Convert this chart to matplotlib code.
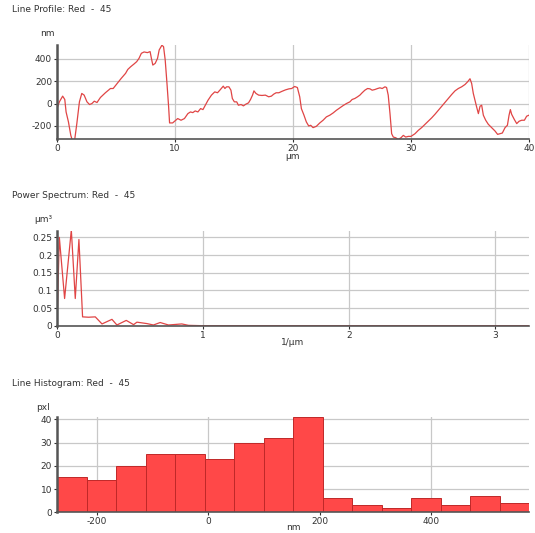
import matplotlib
matplotlib.use("Agg")
import matplotlib.pyplot as plt
import numpy as np

plt.rcParams["axes.unicode_minus"] = False

# Line profile (um, nm)
profile_x = [0, 0.2, 0.48, 0.66, 0.77, 0.97, 1.17, 1.28, 1.5, 1.68, 1.9, 2.1, 2.3, 2.54, 2.76, 2.96,
             3.16, 3.39, 3.68, 4.1, 4.53, 4.76, 5.1, 5.44, 5.81, 6.0, 6.24, 6.52, 6.75, 6.95, 7.15,
             7.38, 7.66, 7.89, 8.0, 8.12, 8.32, 8.52, 8.66, 8.89, 9.03, 9.17, 9.32, 9.46, 9.54, 9.8,
             10.0, 10.23, 10.51, 10.8, 11.09, 11.31, 11.51, 11.71, 11.94, 12.17, 12.37, 12.57, 12.8,
             13.09, 13.37, 13.6, 13.8, 14.09, 14.23, 14.37, 14.57, 14.74, 14.86, 15.03, 15.23, 15.37,
             15.6, 15.8, 16.0, 16.23, 16.4, 16.57, 16.69, 16.86, 17.09, 17.37, 17.66, 17.94, 18.17,
             18.37, 18.57, 18.8, 19.09, 19.37, 19.66, 19.89, 20.14, 20.37, 20.57, 20.71, 20.93, 21.13,
             21.33, 21.5, 21.7, 21.98, 22.27, 22.55, 22.83, 23.12, 23.4, 23.68, 23.97, 24.25, 24.53,
             24.82, 25.01, 25.24, 25.47, 25.67, 25.86, 26.09, 26.32, 26.52, 26.71, 26.94, 27.17,
             27.37, 27.56, 27.79, 27.93, 28.07, 28.22, 28.36, 28.5, 28.7, 28.92, 29.15, 29.35, 29.55,
             29.77, 30.0, 30.34, 30.62, 30.9, 31.19, 31.47, 31.75, 32.03, 32.32, 32.6, 32.88, 33.16,
             33.45, 33.73, 34.01, 34.29, 34.58, 34.8, 35.0, 35.14, 35.28, 35.42, 35.56, 35.71, 35.85,
             35.99, 36.13, 36.33, 36.55, 36.84, 37.12, 37.34, 37.54, 37.74, 37.97, 38.17, 38.31,
             38.42, 38.53, 38.76, 38.96, 39.16, 39.38, 39.61, 39.8, 40.0]
profile_y = [-45, 15, 66, 36, -75, -164, -284, -322, -322, -179, 15, 90, 75, 15, -9, 0,
             21, 9, 54, 96, 134, 134, 179, 224, 269, 304, 328, 352, 373, 403, 448,
             460, 454, 463, 403, 343, 358, 403, 478, 520, 507, 388, 179, -30, -173, -173,
             -155, -134, -149, -134, -90, -75, -81, -66, -75, -45, -54, -15, 30,
             75, 104, 96, 119, 155, 134, 149, 149, 119, 45, 15, 15, -15,
             -9, -21, -6, 6, 36, 75, 113, 90, 75, 72, 75, 60, 66,
             84, 96, 96, 110, 122, 131, 134, 152, 143, 60, -45, -104, -164,
             -200, -194, -215, -203, -173, -149, -119, -104, -84, -60, -39, -18, 0,
             15, 36, 45, 60, 75, 96, 119, 134, 131, 119, 125, 134,
             140, 134, 149, 143, 75, -90, -269, -299, -305, -320, -305, -284, -299,
             -293, -293, -269, -239, -215, -185, -155, -128, -96, -60, -24, 9, 45,
             81, 113, 134, 149, 170, 194, 221, 179, 90, 30, -30, -90, -24,
             -15, -104, -149, -185, -215, -245, -275, -269, -263, -215, -194, -104,
             -54, -96, -143, -179, -158, -149, -149, -113, -104]

# Power spectrum (1/um, um^3)
spec_f = [0, 0.016, 0.052, 0.098, 0.125, 0.15, 0.175, 0.216, 0.262, 0.308, 0.376, 0.41, 0.474,
          0.524, 0.547, 0.615, 0.66, 0.706, 0.763, 0.854, 0.9, 1.0, 3.25]
spec_p = [0, 0.25, 0.077, 0.271, 0.077, 0.244, 0.025, 0.024, 0.025, 0.005, 0.018, 0.002, 0.015,
          0.003, 0.010, 0.006, 0.002, 0.009, 0.002, 0.005, 0.001, 0.0, 0.0]

# Line histogram (nm, pxl)
hist_left = -272
hist_width = 53.0
hist_counts = [15, 14, 20, 25, 25, 23, 30, 32, 41, 6, 3, 2, 6, 3, 7, 4]

W, H = 535, 533
fig = plt.figure(figsize=(W / 100, H / 100), dpi=100)
fig.patch.set_facecolor("white")

txt_col = "#333333"
grid_col = "#c8c8c8"
axis_col = "#555555"
line_col = "#e04545"


def make_axes(top, bottom):
    ax = fig.add_axes([57 / W, 1 - bottom / H, 472 / W, (bottom - top) / H])
    for s in ["top", "right"]:
        ax.spines[s].set_visible(False)
    ax.spines["left"].set_color(axis_col)
    ax.spines["left"].set_linewidth(1.8)
    ax.spines["bottom"].set_color(axis_col)
    ax.spines["bottom"].set_linewidth(1.2)
    ax.grid(True, color=grid_col, linewidth=0.9)
    ax.set_axisbelow(True)
    ax.tick_params(labelsize=6.5, colors=txt_col, length=2, width=0.8, pad=1.5)
    return ax


def title(y, s):
    fig.text(12 / W, 1 - y / H, s, fontsize=6.5, color=txt_col, va="center", ha="left")


# --- profile
title(9, "Line Profile: Red  -  45")
ax1 = make_axes(45, 139.3)
ax1.plot(profile_x, profile_y, color=line_col, linewidth=0.9)
ax1.set_xlim(0, 40)
ax1.set_ylim(-319, 522)
ax1.set_xticks([0, 10, 20, 30, 40])
ax1.set_yticks([-200, 0, 200, 400])
ax1.set_xlabel("µm", fontsize=6.5, color=txt_col, labelpad=-1)
fig.text(47 / W, 1 - 34 / H, "nm", fontsize=6.5, color=txt_col, ha="center", va="center")

# --- power spectrum
title(195, "Power Spectrum: Red  -  45")
ax2 = make_axes(230.7, 325.7)
ax2.plot(spec_f, spec_p, color=line_col, linewidth=0.9)
ax2.set_xlim(0, 3.23)
ax2.set_ylim(0, 0.269)
ax2.set_xticks([0, 1, 2, 3])
ax2.set_yticks([0, 0.05, 0.1, 0.15, 0.2, 0.25])
ax2.set_yticklabels(["0", "0.05", "0.1", "0.15", "0.2", "0.25"])
ax2.set_xlabel("1/µm", fontsize=6.5, color=txt_col, labelpad=-1)
fig.text(43 / W, 1 - 219 / H, "µm³", fontsize=6.5, color=txt_col, ha="center", va="center")

# --- histogram
title(383, "Line Histogram: Red  -  45")
ax3 = make_axes(417, 512.3)
lefts = hist_left + hist_width * np.arange(len(hist_counts))
ax3.bar(lefts, hist_counts, width=hist_width, align="edge",
        color="#ff4848", edgecolor="#c02828", linewidth=0.7)
ax3.set_xlim(hist_left, hist_left + hist_width * len(hist_counts))
ax3.set_ylim(0, 41)
ax3.set_xticks([-200, 0, 200, 400])
ax3.set_yticks([0, 10, 20, 30, 40])
ax3.set_xlabel("nm", fontsize=6.5, color=txt_col, labelpad=-2)
fig.text(43 / W, 1 - 407 / H, "pxl", fontsize=6.5, color=txt_col, ha="center", va="center")

fig.savefig("out.png", dpi=100)
